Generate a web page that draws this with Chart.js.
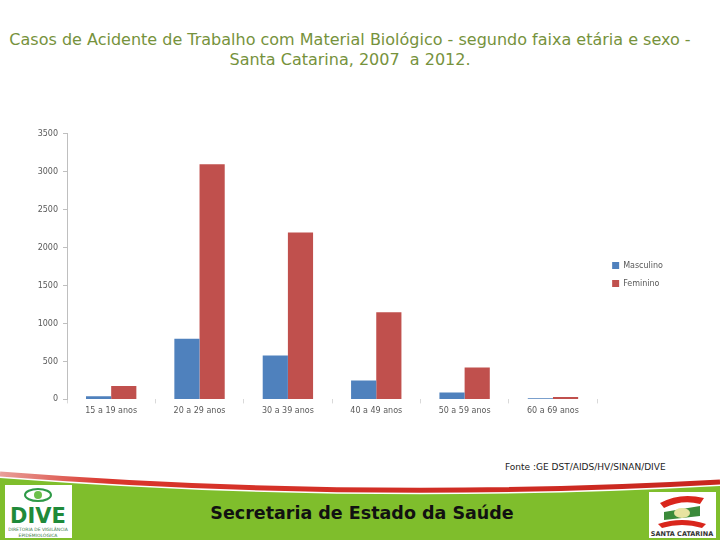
<!DOCTYPE html>
<html>
<head>
<meta charset="utf-8">
<script src="https://cdn.jsdelivr.net/npm/chart.js@4/dist/chart.umd.min.js"></script>
<style>
  body { margin: 0; width: 720px; height: 540px; background: #fff; position: relative; overflow: hidden; font-family: "DejaVu Sans", sans-serif; }
  #titulo { position: absolute; top: 30px; left: 0; width: 700px; text-align: center; color: #76923c; font-size: 16px; line-height: 20px; }
  #grafico { position: absolute; left: 0; top: 124px; width: 700px; height: 295px; }
  #fonte { position: absolute; left: 505px; top: 462px; font-size: 9px; color: #222; letter-spacing: 0px; }
  #rodape { position: absolute; left: 0; top: 468px; }
  #secretaria { position: absolute; left: 0; top: 503px; width: 724px; text-align: center; font-weight: bold; font-size: 17.5px; color: #111; }
</style>
</head>
<body>
<div id="titulo">Casos de Acidente de Trabalho com Material Biológico - segundo faixa etária e sexo -<br>Santa Catarina, 2007&nbsp; a 2012.</div>
<div id="grafico"><canvas id="chartCasos" width="700" height="295"></canvas></div>
<div id="fonte">Fonte :GE DST/AIDS/HV/SINAN/DIVE</div>

<svg id="rodape" width="720" height="72" viewBox="0 0 720 72">
  <defs>
    <linearGradient id="vermelho" x1="0" x2="1" y1="0" y2="0">
      <stop offset="0" stop-color="#e8a09a"/>
      <stop offset="0.15" stop-color="#d9352b"/>
      <stop offset="1" stop-color="#c8261e"/>
    </linearGradient>
  </defs>
  <path d="M0,10 Q360,38 720,18 L720,72 L0,72 Z" fill="#7fbe2c"/>
  <path d="M0,6 Q360,34 720,14" fill="none" stroke="url(#vermelho)" stroke-width="5"/>
  <!-- DIVE -->
  <rect x="5" y="17" width="67" height="53" fill="#fff"/>
  <ellipse cx="38" cy="27" rx="13" ry="6" fill="none" stroke="#2e9a48" stroke-width="2"/>
  <circle cx="38" cy="27" r="4" fill="#6cc04a"/>
  <text x="38" y="55" text-anchor="middle" font-family="DejaVu Sans" font-weight="bold" font-size="21" fill="#1f8a3a">DIVE</text>
  <text x="38" y="63" text-anchor="middle" font-family="DejaVu Sans" font-size="4.5" fill="#3a7a4a">DIRETORIA DE VIGILÂNCIA</text>
  <text x="38" y="69" text-anchor="middle" font-family="DejaVu Sans" font-size="4.5" fill="#3a7a4a">EPIDEMIOLÓGICA</text>
  <!-- Santa Catarina -->
  <rect x="649" y="24" width="67" height="46" fill="#fff"/>
  <path d="M660,35 Q680,24 704,30 L700,36 Q682,31 664,40 Z" fill="#d9261c"/>
  <path d="M664,44 L700,38 L700,48 L664,52 Z" fill="#3b8a3a"/>
  <ellipse cx="682" cy="45" rx="8" ry="5" fill="#e8e3a0"/>
  <path d="M658,56 Q682,48 706,56 L702,60 Q682,54 662,60 Z" fill="#d9261c"/>
  <text x="682" y="68" text-anchor="middle" font-family="DejaVu Sans" font-weight="bold" font-size="6.5" fill="#333">SANTA CATARINA</text>
</svg>
<div id="secretaria">Secretaria de Estado da Saúde</div>

<script>
var faixas = ["15 a 19 anos", "20 a 29 anos", "30 a 39 anos", "40 a 49 anos", "50 a 59 anos", "60 a 69 anos"];
var masculino = [40, 800, 580, 250, 90, 15];
var feminino = [175, 3100, 2200, 1150, 420, 30];
var eixoY = [0, 500, 1000, 1500, 2000, 2500, 3000, 3500];

var chartCasos;

// leaves a little more room between the plot and the legend
var legendGap = {
  id: 'legendGap',
  afterInit: function(chart) {
    var fit = chart.legend.fit;
    chart.legend.fit = function() {
      fit.call(this);
      this.width += 5;
    };
  },
  afterLayout: function(chart) {
    chart.legend.left += 5;
  }
};

function showChartCasos() {
  var ctx = document.getElementById('chartCasos').getContext('2d');

  chartCasos = new Chart(ctx, {
    type: 'bar',
    data: {
      labels: faixas,
      datasets: [{
        label: "Masculino",
        backgroundColor: '#4f81bd',
        borderColor: '#4f81bd',
        data: masculino
      }, {
        label: "Feminino",
        backgroundColor: '#c0504d',
        borderColor: '#c0504d',
        data: feminino
      }]
    },
    plugins: [legendGap],
    options: {
      responsive: false,
      animation: false,
      categoryPercentage: 0.57,
      barPercentage: 1.0,
      layout: {
        padding: { left: 0, right: 27, top: 6, bottom: 0 }
      },
      plugins: {
        tooltip: { enabled: false },
        legend: {
          position: 'right',
          labels: {
            boxWidth: 7,
            boxHeight: 7,
            padding: 10,
            color: '#595959',
            font: { family: 'DejaVu Sans', size: 8 }
          }
        }
      },
      scales: {
        y: {
          min: 0,
          max: 3500,
          afterFit: function(scale) { scale.width = 67; },
          afterBuildTicks: function(scale) {
            scale.ticks = eixoY.map(function(v) { return { value: v }; });
          },
          border: { display: true, color: '#bfbfbf' },
          grid: { drawOnChartArea: false, tickLength: 4, color: '#bfbfbf' },
          ticks: {
            padding: 5,
            color: '#595959',
            font: { family: 'DejaVu Sans', size: 8 },
            callback: function(value) { return String(value); }
          }
        },
        x: {
          border: { display: false },
          grid: { drawOnChartArea: false, tickLength: 4, color: '#d9d9d9' },
          ticks: {
            padding: 3,
            color: '#595959',
            maxRotation: 0,
            font: { family: 'DejaVu Sans', size: 8 }
          }
        }
      }
    }
  });
}

showChartCasos();
</script>
</body>
</html>
